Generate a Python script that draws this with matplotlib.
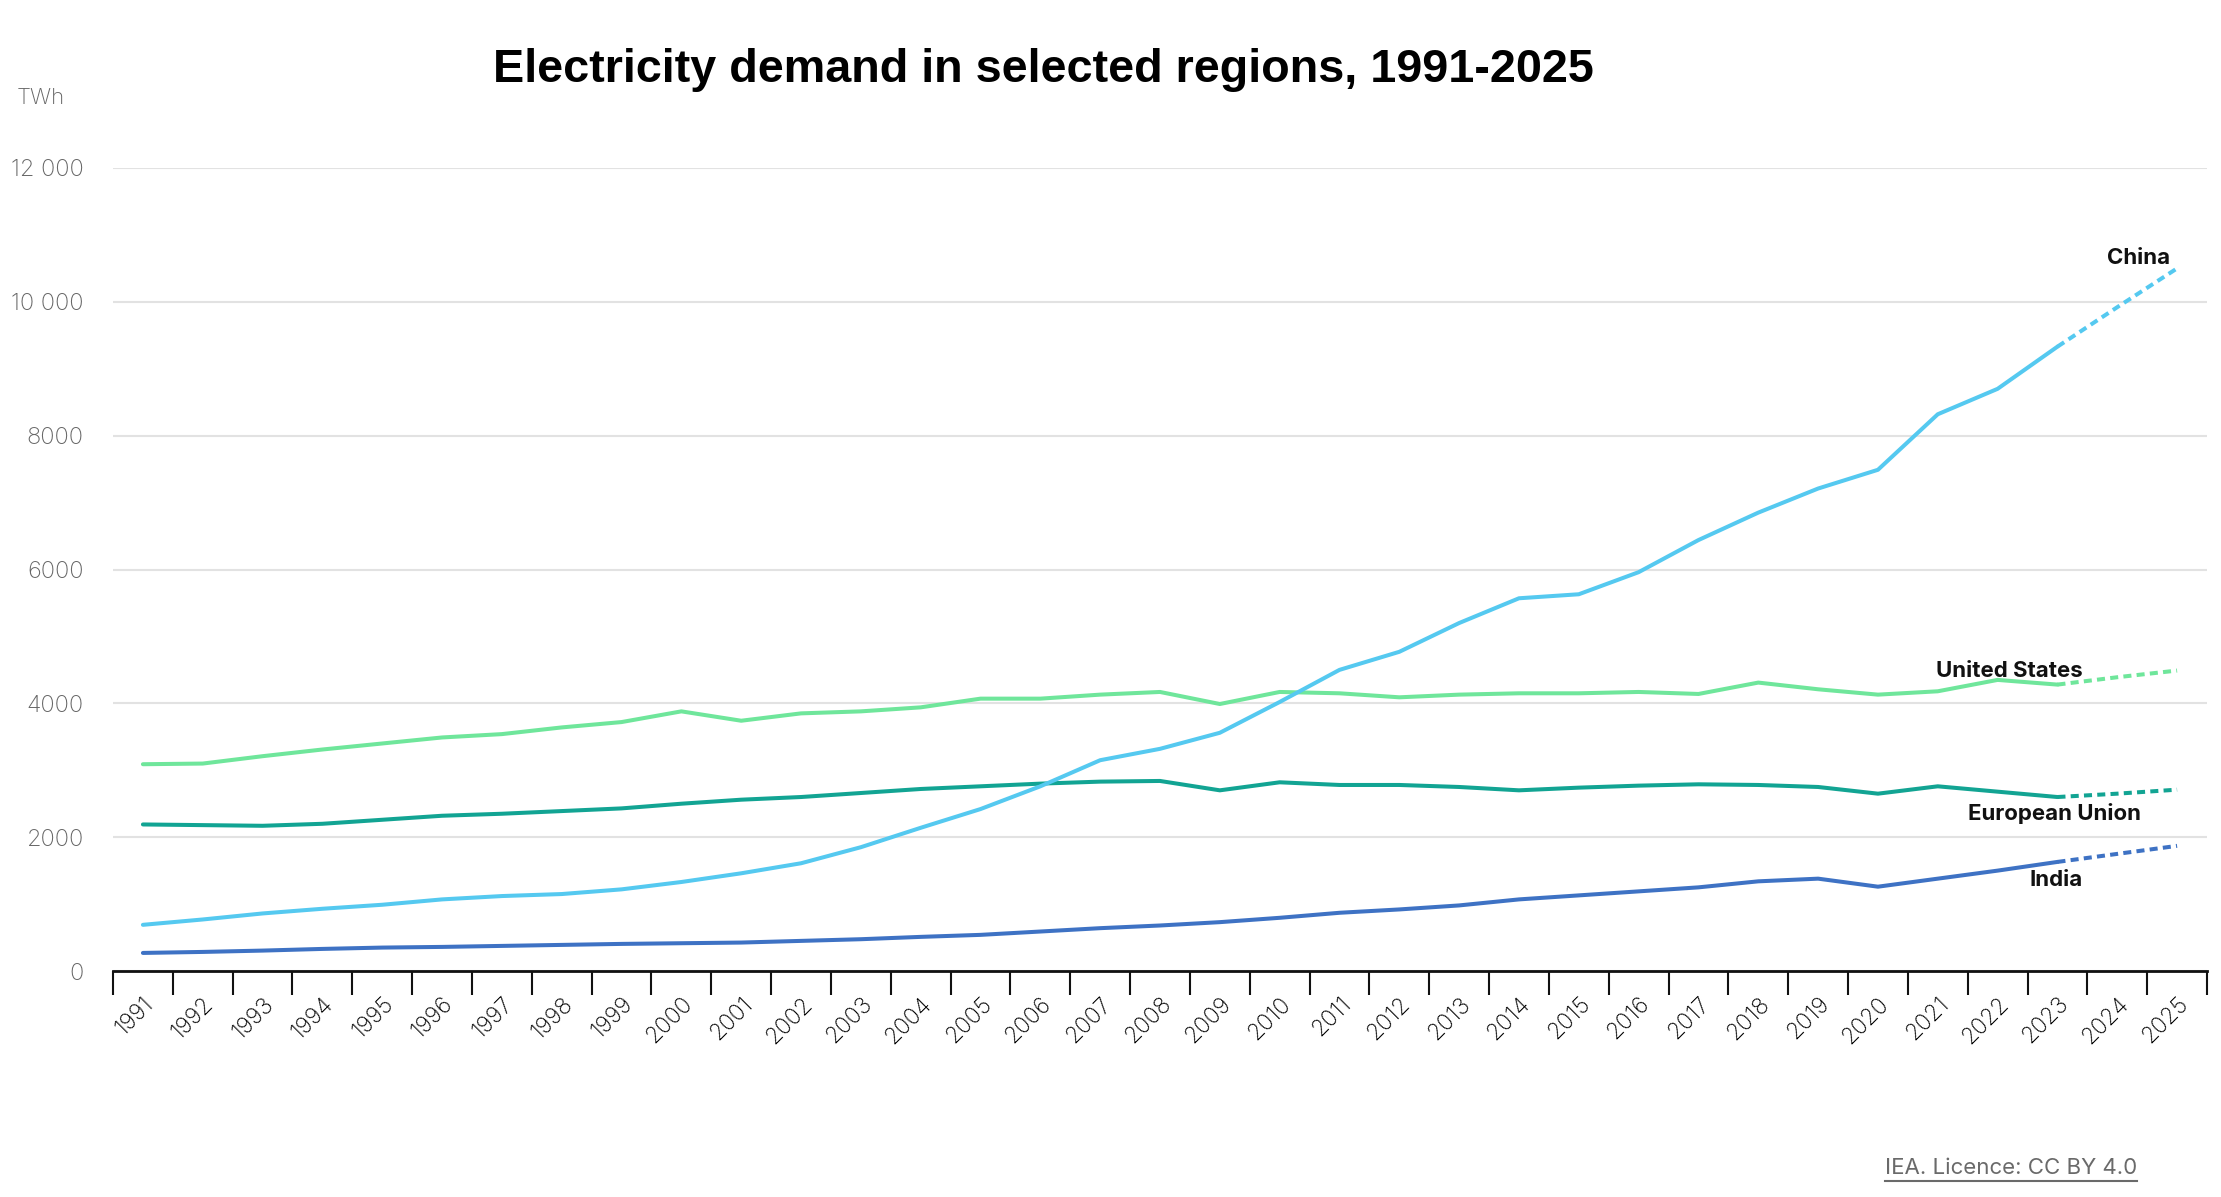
import matplotlib
matplotlib.use("Agg")
import matplotlib.pyplot as plt
import matplotlib.transforms as mtransforms
import numpy as np
from matplotlib.lines import Line2D

years = [str(y) for y in range(1991, 2026)]
china = [690, 770, 860, 930, 990, 1070, 1120, 1150, 1220, 1330, 1460, 1610, 1850, 2140, 2420,
         2760, 3150, 3320, 3560, 4020, 4500, 4770, 5200, 5570, 5630, 5960, 6440, 6850, 7210, 7490,
         8320, 8700, 9330, 9920, 10500]
united_states = [3090, 3100, 3210, 3310, 3400, 3490, 3540, 3640, 3720, 3880, 3740, 3850, 3880, 3940, 4070,
                 4070, 4130, 4170, 3990, 4170, 4150, 4090, 4130, 4150, 4150, 4170, 4140, 4310, 4210, 4130,
                 4180, 4350, 4280, 4390, 4490]
european_union = [2190, 2180, 2170, 2200, 2260, 2320, 2350, 2390, 2430, 2500, 2560, 2600, 2660, 2720, 2760,
                  2800, 2830, 2840, 2700, 2820, 2780, 2780, 2750, 2700, 2740, 2770, 2790, 2780, 2750, 2650,
                  2760, 2680, 2600, 2650, 2710]
india = [270, 285, 305, 330, 350, 360, 375, 390, 405, 415, 425, 450, 475, 510, 540,
         590, 640, 680, 730, 795, 870, 920, 980, 1070, 1130, 1190, 1250, 1340, 1380, 1260,
         1380, 1500, 1630, 1750, 1870]
series_names = ["China", "United States", "European Union", "India"]
last_actual = "2023"

colors = {"China": "#55c9f0", "United States": "#6fe69b", "European Union": "#12a493", "India": "#3e72c4"}

W, H = 2221, 1197
fig = plt.figure(figsize=(W / 100, H / 100), dpi=100)
ax = fig.add_axes([113 / W, 1 - 971 / H, (2207 - 113) / W, (971 - 168) / H])

x = np.arange(len(years))
k = years.index(last_actual)
data = {"China": china, "United States": united_states, "European Union": european_union, "India": india}
for name in ["India", "European Union", "United States", "China"]:
    v = np.array(data[name])
    ax.plot(x[:k + 1], v[:k + 1], color=colors[name], lw=2.9, solid_capstyle="round", zorder=3)
    ax.plot(x[k:], v[k:], color=colors[name], lw=2.9, linestyle=(0, (2.0, 1.3)), zorder=3)

ax.set_xlim(-0.5, len(years) - 0.5)
ax.set_ylim(0, 12000)
ax.set_yticks([0, 2000, 4000, 6000, 8000, 10000, 12000])
ax.set_yticklabels(["0", "2000", "4000", "6000", "8000", "10 000", "12 000"],
                   family="Inter", fontsize=17, color="#666666", fontweight="light")
ax.yaxis.grid(True, color="#e2e2e2", lw=1.5)
ax.set_axisbelow(True)
ax.tick_params(axis="y", length=0, pad=21)

ax.set_xticks(x)
ax.set_xticklabels(years, rotation=45, ha="right", rotation_mode="anchor",
                   family="Inter", fontsize=16.5, color="#000000", fontweight="light")
offset = mtransforms.ScaledTranslation(9 / 100, 0, fig.dpi_scale_trans)
for t in ax.get_xticklabels():
    t.set_transform(t.get_transform() + offset)
ax.set_xticks(np.arange(-0.5, len(years)), minor=True)
ax.tick_params(axis="x", which="major", length=0, pad=16)
ax.tick_params(axis="x", which="minor", length=17, width=1.5, color="#111111", direction="out")

for s in ["top", "right", "left"]:
    ax.spines[s].set_visible(False)
ax.spines["bottom"].set_color("#111111")
ax.spines["bottom"].set_linewidth(2)
ax.spines["bottom"].set_zorder(4)

lbl = dict(family="Inter", fontsize=16, fontweight="bold", color="#111111", ha="right", va="center")
ax.text(33.89, 10655, "China", **lbl)
ax.text(32.42, 4483, "United States", **lbl)
ax.text(33.39, 2360, "European Union", **lbl)
ax.text(32.42, 1360, "India", **lbl)

fig.text(1043 / W, 1 - 70 / H, "Electricity demand in selected regions, 1991-2025",
         family="Liberation Sans", fontweight="bold", fontsize=33.7, ha="center", va="center", color="black")
fig.text(17 / W, 1 - 98 / H, "TWh", family="Inter", fontsize=16, color="#666666",
         fontweight="light", ha="left", va="center")
foot = fig.text(2137 / W, 1 - 1168 / H, "IEA. Licence: CC BY 4.0", family="Inter", fontsize=16,
                color="#6a6a6a", ha="right", va="center")
fig.canvas.draw()
bb = foot.get_window_extent()
fig.add_artist(Line2D([bb.x0 / W, bb.x1 / W], [(bb.y0 - 3) / H, (bb.y0 - 3) / H], color="#6a6a6a", lw=1.5))

fig.savefig("out.png", dpi=100, facecolor="white")
